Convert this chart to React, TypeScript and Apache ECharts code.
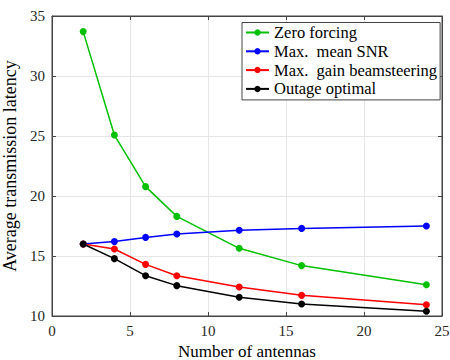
import React, { useEffect, useRef } from "react";
import * as echarts from "echarts";

const antennas = [2, 4, 6, 8, 12, 16, 24];
const zeroForcing = [33.7, 25.08, 20.78, 18.3, 15.64, 14.2, 12.6];
const maxMeanSNR = [16.0, 16.2, 16.55, 16.83, 17.14, 17.3, 17.5];
const maxGainBeam = [16.0, 15.58, 14.3, 13.36, 12.42, 11.72, 10.94];
const outageOptimal = [16.0, 14.78, 13.36, 12.53, 11.56, 11.0, 10.39];

const seriesNames = ["Zero forcing", "Max.  mean SNR", "Max.  gain beamsteering", "Outage optimal"];
const seriesColors = ["#00c000", "#0000ff", "#ff0000", "#000000"];
const seriesData = [zeroForcing, maxMeanSNR, maxGainBeam, outageOptimal];
const xTicks = { min: 0, max: 25, interval: 5 };
const yTicks = { min: 10, max: 35, interval: 5 };

const FONT = "Liberation Serif, Times New Roman, serif";
const AX = "#444444";

export default function App() {
  const ref = useRef<HTMLDivElement>(null);
  useEffect(() => {
    document.body.style.margin = "0";
    if (!ref.current) return;
    const chart = echarts.init(ref.current, undefined, { renderer: "svg" });
    const line = { show: true, onZero: false, symbol: "none", lineStyle: { color: AX, width: 1 } };
    const tick = { show: true, inside: true, length: 4, lineStyle: { color: AX, width: 1 } };
    const label = { fontFamily: FONT, fontSize: 15, color: "#262626", margin: 7 };
    chart.setOption({
      animation: false,
      backgroundColor: "#ffffff",
      textStyle: { fontFamily: FONT },
      grid: {
        left: 52, right: 8, top: 16, bottom: 44, containLabel: false, outerBoundsMode: "none",
      },
      legend: {
        orient: "vertical",
        left: 242,
        top: 22.5,
        itemWidth: 23,
        itemHeight: 8,
        itemGap: 1.8,
        padding: [1.5, 3, 2.5, 3],
        backgroundColor: "#ffffff",
        borderColor: AX,
        borderWidth: 1,
        textStyle: { fontFamily: FONT, fontSize: 16.5, color: "#000" },
        data: seriesNames,
        z: 20,
      },
      xAxis: [
        {
          type: "value",
          ...xTicks,
          position: "bottom",
          name: "Number of antennas",
          nameLocation: "middle",
          nameGap: 24,
          nameTextStyle: { fontFamily: FONT, fontSize: 17, color: "#000" },
          axisLine: line,
          axisTick: tick,
          axisLabel: label,
          splitLine: { show: true, lineStyle: { color: "#e6e6e6", width: 1 } },
        },
        {
          type: "value",
          ...xTicks,
          position: "top",
          axisLine: line,
          axisTick: tick,
          axisLabel: { show: false },
          splitLine: { show: false },
        },
      ],
      yAxis: [
        {
          type: "value",
          ...yTicks,
          position: "left",
          name: "Average transmission latency",
          nameLocation: "middle",
          nameGap: 27,
          nameTextStyle: { fontFamily: FONT, fontSize: 18, color: "#000" },
          axisLine: line,
          axisTick: tick,
          axisLabel: label,
          splitLine: { show: true, lineStyle: { color: "#e6e6e6", width: 1 } },
        },
        {
          type: "value",
          ...yTicks,
          position: "right",
          axisLine: line,
          axisTick: tick,
          axisLabel: { show: false },
          splitLine: { show: false },
        },
      ],
      series: seriesNames.map((name, i) => ({
        name,
        type: "line",
        xAxisIndex: 0,
        yAxisIndex: 0,
        data: antennas.map((x, j) => [x, seriesData[i][j]]),
        symbol: "circle",
        symbolSize: 7,
        showSymbol: true,
        itemStyle: { color: seriesColors[i] },
        lineStyle: { color: seriesColors[i], width: 1.5 },
      })),
    });
    const p0 = chart.convertToPixel({ gridIndex: 0 }, [xTicks.min, yTicks.max]) as number[];
    const p1 = chart.convertToPixel({ gridIndex: 0 }, [xTicks.max, yTicks.min]) as number[];
    chart.setOption({
      graphic: [
        {
          type: "rect",
          z: 15,
          silent: true,
          shape: { x: p0[0], y: p0[1], width: p1[0] - p0[0], height: p1[1] - p0[1] },
          style: { fill: "none", stroke: AX, lineWidth: 1 },
        },
      ],
    });
    return () => chart.dispose();
  }, []);
  return <div ref={ref} style={{ width: 450, height: 360 }} />;
}
